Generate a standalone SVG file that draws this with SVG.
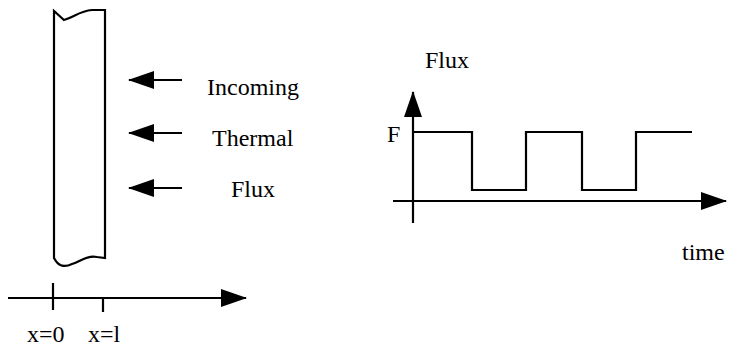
<svg xmlns="http://www.w3.org/2000/svg" width="735" height="346" viewBox="0 0 735 346">
<style>
.ln{stroke:#000;stroke-width:2.2;fill:none}
.tx{font-family:"Liberation Serif","Times New Roman",serif;font-size:24px;fill:#000}
</style>
<defs>
<marker id="ah" viewBox="0 0 26 18" refX="25" refY="9" markerWidth="26" markerHeight="18" markerUnits="userSpaceOnUse" orient="auto">
<path d="M0,0 L26,9 L0,18 Z" fill="#000"/>
</marker>
</defs>
<rect width="735" height="346" fill="#fff"/>
<g id="slab">
<path class="ln" d="M54,258 L54,11 L64,20 C74,17 80,11 92,10 L105,10 L105,258 L97,257 C86,255 80,262 72,264 C64,268 58,266 54,258 Z"/>
</g>
<g id="connectors">
<line class="ln" x1="182" y1="80" x2="129" y2="80" marker-end="url(#ah)"/>
<line class="ln" x1="182" y1="133" x2="129" y2="133" marker-end="url(#ah)"/>
<line class="ln" x1="182" y1="188" x2="129" y2="188" marker-end="url(#ah)"/>
<line class="ln" x1="8" y1="298" x2="246" y2="298" marker-end="url(#ah)"/>
<line class="ln" x1="53" y1="283" x2="53" y2="310"/>
<line class="ln" x1="103" y1="298" x2="103" y2="312"/>
<line class="ln" x1="413" y1="223" x2="413" y2="92" marker-end="url(#ah)"/>
<line class="ln" x1="393" y1="201" x2="726" y2="201" marker-end="url(#ah)"/>
</g>
<g id="wave">
<polyline class="ln" points="413,132 472,132 472,190 526,190 526,132 582,132 582,190 636,190 636,132 692,132"/>
</g>
<g id="labels">
<text class="tx" x="207" y="95">Incoming</text>
<text class="tx" x="212" y="146">Thermal</text>
<text class="tx" x="231" y="197">Flux</text>
<text class="tx" x="27" y="342">x=0</text>
<text class="tx" x="88" y="342">x=l</text>
<text class="tx" x="425" y="68">Flux</text>
<text class="tx" x="387" y="142">F</text>
<text class="tx" x="682" y="260">time</text>
</g>
</svg>
